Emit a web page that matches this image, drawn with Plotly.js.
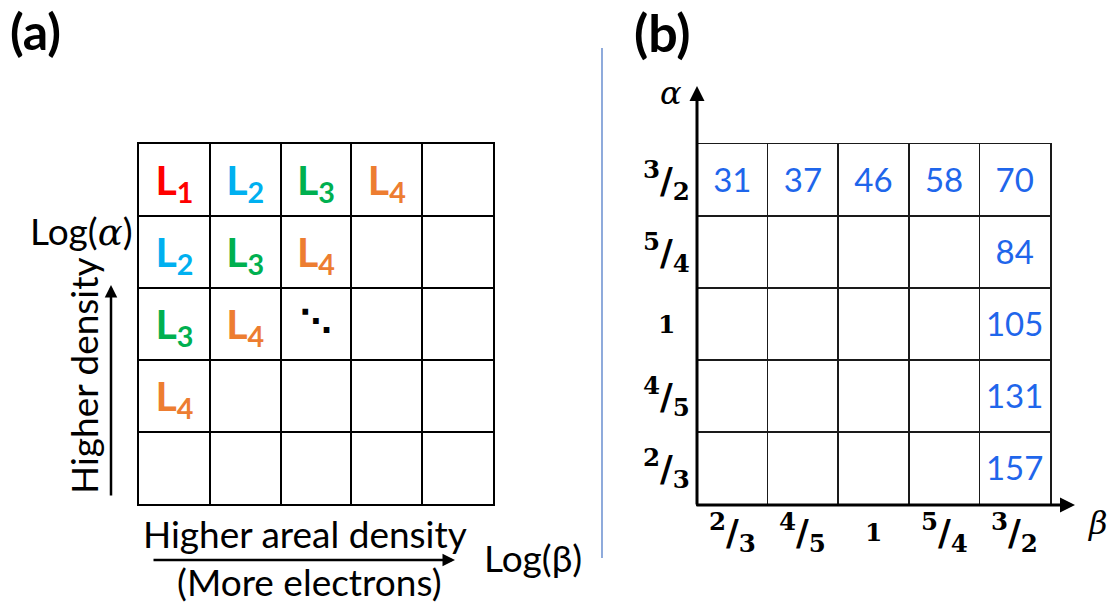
<!DOCTYPE html>
<html>
<head>
<meta charset="utf-8">
<script src="https://cdn.plot.ly/plotly-3.0.1.min.js"></script>
<style>
  html, body { margin: 0; padding: 0; background: #ffffff; }
  #chart { width: 1112px; height: 603px; }
</style>
</head>
<body>
<div id="chart"></div>
<script>
// ---- Panel (a): ladder of levels over the log(α)–log(β) grid ----
const levelNames = ['L<sub>1</sub>', 'L<sub>2</sub>', 'L<sub>3</sub>', 'L<sub>4</sub>'];
const levelColors = ['#FF0000', '#00B0F0', '#00B050', '#ED7D31'];
// rows listed top to bottom, columns left to right; -1 = empty, 'more' = continuation dots
const levelRows = [
  [0, 1, 2, 3, -1],
  [1, 2, 3, -1, -1],
  [2, 3, 'more', -1, -1],
  [3, -1, -1, -1, -1],
  [-1, -1, -1, -1, -1]
];

// ---- Panel (b): values on the α, β grid ----
const betaLabels = ['2/3', '4/5', '1', '5/4', '3/2'];   // left to right
const alphaLabels = ['2/3', '4/5', '1', '5/4', '3/2'];  // bottom to top
const topRowValues = [31, 37, 46, 58, 70];              // α = 3/2, β = 2/3 … 3/2
const lastColumnValues = [157, 131, 105, 84, 70];       // β = 3/2, α = 2/3 … 3/2

const W = 1112, H = 603;
const px = v => v / W;
const py = v => 1 - v / H;

const SANS = 'Lato, "Open Sans", sans-serif';
const SERIF = '"DejaVu Serif", "Liberation Serif", serif';
const CAPTION = 37;

// fraction label such as ³⁄₂ as html
function fracHtml(s) {
  if (s.indexOf('/') < 0) return '<b><span style="font-size:25px">' + s + '</span></b>';
  const [n, d] = s.split('/');
  return '<b><sup>' + n + '</sup>/<sub>' + d + '</sub></b>';
}

// panel (a) text cells
const aX = [], aY = [], aText = [], aColor = [];
const dotX = [], dotY = [];
levelRows.forEach((row, r) => {
  row.forEach((lv, c) => {
    const xc = c + 0.5, yc = levelRows.length - 1 - r + 0.5;
    if (lv === 'more') { dotX.push(xc); dotY.push(yc); }
    else if (lv >= 0) {
      aX.push(xc); aY.push(yc - 0.06);
      aText.push('<b>' + levelNames[lv] + '</b>');
      aColor.push(levelColors[lv]);
    }
  });
});

// panel (b) text cells: top row and last column (the corner cell appears once)
const bX = [], bY = [], bText = [];
topRowValues.forEach((v, i) => { bX.push(i + 0.5); bY.push(alphaLabels.length - 0.5); bText.push(String(v)); });
lastColumnValues.forEach((v, j) => {
  if (j === alphaLabels.length - 1) return;
  bX.push(betaLabels.length - 0.5); bY.push(j + 0.5); bText.push(String(v));
});

const traces = [
  {
    type: 'scatter', mode: 'text', xaxis: 'x', yaxis: 'y',
    x: aX, y: aY, text: aText, hoverinfo: 'skip',
    textfont: { family: SANS, size: 41, color: aColor }
  },
  {
    type: 'scatter', mode: 'text', xaxis: 'x', yaxis: 'y',
    x: dotX, y: dotY, text: dotX.map(() => '<b>⋱</b>'), hoverinfo: 'skip',
    textfont: { family: '"DejaVu Sans", sans-serif', size: 32, color: '#000000' }
  },
  {
    type: 'scatter', mode: 'text', xaxis: 'x2', yaxis: 'y2',
    x: bX, y: bY.map(v => v - 0.05), text: bText, hoverinfo: 'skip',
    textfont: { family: SANS, size: 33, color: '#1F66EB' }
  }
];

const gridAxis = (domain, anchor) => ({
  domain: domain, anchor: anchor, range: [0, 5], fixedrange: true,
  tick0: 0, dtick: 1, showgrid: true, gridcolor: '#000000', gridwidth: 2,
  showline: true, mirror: true, linecolor: '#000000', linewidth: 2,
  zeroline: false, showticklabels: false, ticks: ''
});

const baseFont = { family: SANS, size: CAPTION, color: '#000000' };
const annotations = [
  // panel letters
  { text: '<b>(a)</b>', x: px(35), y: py(31), font: { size: 50 } },
  { text: '<b>(b)</b>', x: px(662), y: py(32), font: { size: 52 } },
  // panel (a) axis captions
  { text: 'Log(<i><span style="font-family:\'DejaVu Serif\'">α</span></i>)', x: px(81), y: py(231) },
  { text: 'Higher density', x: px(83), y: py(376), textangle: -90 },
  { text: 'Higher areal density', x: px(305), y: py(533) },
  { text: '(More electrons)', x: px(309), y: py(581) },
  { text: 'Log(β)', x: px(533), y: py(557) },
  // panel (b) axis symbols
  { text: '<i>α</i>', x: px(671), y: py(93), font: { family: SERIF, size: 32 } },
  { text: '<i>β</i>', x: px(1098), y: py(523), font: { family: SERIF, size: 32 } }
].map(a => Object.assign({
  xref: 'paper', yref: 'paper', showarrow: false, xanchor: 'center', yanchor: 'middle'
}, a, { font: Object.assign({}, baseFont, a.font || {}) }));

// α tick labels of panel (b), centred left of the axis
alphaLabels.forEach((s, j) => {
  annotations.push({
    text: fracHtml(s), xref: 'paper', yref: 'y2', x: px(666), y: j + 0.5,
    showarrow: false, xanchor: 'center', yanchor: 'middle',
    font: { family: SERIF, size: 35, color: '#000000' }
  });
});
// β tick labels of panel (b)
betaLabels.forEach((s, i) => {
  annotations.push({
    text: fracHtml(s), xref: 'x2', yref: 'paper', x: i + 0.5, y: py(532),
    showarrow: false, xanchor: 'center', yanchor: 'middle',
    font: { family: SERIF, size: 35, color: '#000000' }
  });
});

// arrows
const arrow = (tipX, tipY, dx, dy, w) => ({
  text: '', xref: 'paper', yref: 'paper', x: px(tipX), y: py(tipY),
  ax: dx, ay: dy, showarrow: true, arrowhead: 2, arrowsize: 1, arrowwidth: w,
  arrowcolor: '#000000', standoff: 0, startstandoff: 0
});
annotations.push(arrow(111, 285, 0, 212, 2.5));      // higher density
annotations.push(arrow(455, 560, -303, 0, 2.5));     // higher areal density
annotations.push(arrow(697, 86, 0, 420, 3));         // α axis
annotations.push(arrow(1075, 505, -380, 0, 3));      // β axis

const bx = gridAxis([px(697), px(1050)], 'y2');
const by = gridAxis([py(504), py(144)], 'x2');
bx.gridwidth = by.gridwidth = 1.5; bx.linewidth = by.linewidth = 1.5;
bx.gridcolor = by.gridcolor = bx.linecolor = by.linecolor = '#1a1a1a';

const layout = {
  width: W, height: H,
  margin: { l: 0, r: 0, t: 0, b: 0 },
  paper_bgcolor: '#ffffff', plot_bgcolor: '#ffffff',
  showlegend: false,
  xaxis: gridAxis([px(139), px(493)], 'y'),
  yaxis: gridAxis([py(504), py(144)], 'x'),
  xaxis2: bx,
  yaxis2: by,
  annotations: annotations,
  shapes: [
    { type: 'line', xref: 'paper', yref: 'paper', x0: px(602), x1: px(602), y0: py(48), y1: py(558),
      line: { color: '#4472C4', width: 1.2 } }
  ]
};

Plotly.newPlot('chart', traces, layout, { displayModeBar: false, staticPlot: true });
</script>
</body>
</html>
